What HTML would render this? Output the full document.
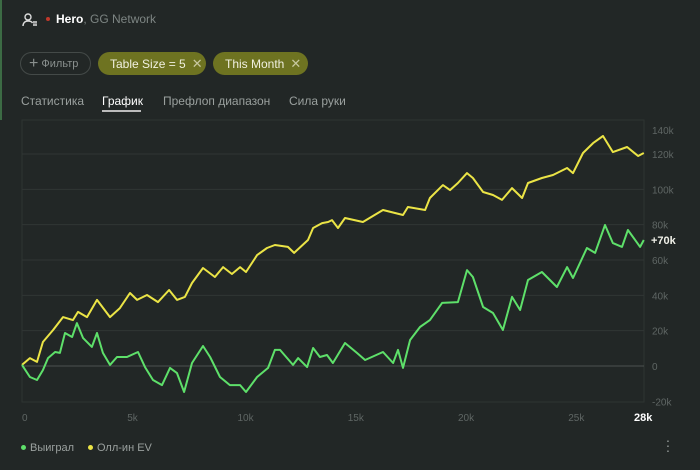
<!DOCTYPE html>
<html><head><meta charset="utf-8">
<style>
*{margin:0;padding:0;box-sizing:border-box}
body{width:700px;height:470px;background:#222726;font-family:"Liberation Sans",sans-serif;position:relative;overflow:hidden;color:#ccc}
.abs{position:absolute}
.chip{position:absolute;top:52px;height:23px;border-radius:12px;background:#6e7321;color:#f0f0e0;font-size:12px;line-height:23px;padding-left:12px}
.chip .x{color:#c8c8a0;margin-left:6px;font-size:13px}
.tab{position:absolute;top:94px;font-size:12px;color:#9aa09e}
</style></head><body>
<div class="abs" style="left:0;top:0;width:2px;height:120px;background:#3c6b44"></div>
<svg class="abs" style="left:22px;top:12px" width="16" height="16" viewBox="0 0 16 16"><circle cx="6" cy="5" r="3" fill="none" stroke="#ddd" stroke-width="1.4"/><path d="M1 14c0-3 2-5 5-5s4 1 4.5 2" fill="none" stroke="#ddd" stroke-width="1.4"/><path d="M11 10h4M11 13h4M12 9v5M14 9v5" stroke="#ddd" stroke-width="1"/></svg>
<div class="abs" style="left:46px;top:17px;width:4px;height:4px;border-radius:2px;background:#c0392b"></div>
<div class="abs" style="left:56px;top:12px;font-size:12px"><b style="color:#fff">Hero</b><span style="color:#7d8583">, GG Network</span></div>
<div class="abs" style="left:20px;top:52px;width:71px;height:23px;border:1px solid #444a48;border-radius:12px;font-size:11px;color:#8a908e;line-height:21px;padding-left:8px"><span style="font-size:16px;vertical-align:-1px">+</span> Фильтр</div>
<div class="chip" style="left:98px;width:108px">Table Size = 5<span class="x">✕</span></div>
<div class="chip" style="left:213px;width:95px">This Month<span class="x">✕</span></div>
<div class="tab" style="left:21px">Статистика</div>
<div class="tab" style="left:102px;color:#fff">График</div>
<div class="abs" style="left:102px;top:110px;width:39px;height:2px;background:#bbb"></div>
<div class="tab" style="left:163px">Префлоп диапазон</div>
<div class="tab" style="left:289px">Сила руки</div>
<svg id="chart" class="abs" style="left:0;top:0" width="700" height="470"></svg>
<div class="abs" style="left:21px;top:442px;font-size:11px;color:#9aa09e"><span style="display:inline-block;width:5px;height:5px;border-radius:3px;background:#5ee06a;vertical-align:1px;margin-right:4px"></span>Выиграл</div>
<div class="abs" style="left:88px;top:442px;font-size:11px;color:#9aa09e"><span style="display:inline-block;width:5px;height:5px;border-radius:3px;background:#ebe446;vertical-align:1px;margin-right:4px"></span>Олл-ин EV</div>
<div class="abs" style="left:665px;top:438px;font-size:14px;color:#9aa09e;line-height:5px;width:6px;text-align:center">·<br>·<br>·</div>
<script>
const yTicks=[140,120,100,80,60,40,20,0,-20];
const yTickLabels=["140k","120k","100k","80k","60k","40k","20k","0","-20k"];
const xTicks=[0,5,10,15,20,25];
const xTickLabels=["0","5k","10k","15k","20k","25k"];
const wonHands=[0,0.36,0.68,0.95,1.18,1.5,1.72,1.95,2.27,2.49,2.77,3.17,3.4,3.67,3.99,4.31,4.76,5.26,5.58,5.94,6.35,6.71,7.03,7.35,7.71,8.21,8.53,8.98,9.43,9.89,10.16,10.66,11.16,11.47,11.7,12.29,12.52,12.93,13.2,13.51,13.83,14.1,14.65,15.19,15.56,16.37,16.83,17.05,17.28,17.6,18.05,18.5,19.05,19.77,20.18,20.45,20.91,21.36,21.81,22.22,22.59,22.95,23.58,24.26,24.72,24.99,25.62,25.99,26.44,26.8,27.21,27.48,28.03,28.2];
const wonValues=[0.6,-6.2,-7.9,-2.3,4.5,7.9,7.4,18.7,16.4,24.3,15.8,10.8,18.7,7.4,0.6,5.1,5.1,7.9,-0.6,-7.9,-10.8,-1.1,-4,-14.7,1.7,11.3,5.1,-6.2,-10.8,-10.8,-14.7,-6.2,-1.1,9.1,9.1,0.6,4.5,-0.6,10.2,5.1,6.2,1.7,13,7.4,3.4,7.9,1.7,9.1,-1.1,14.7,22.1,26,35.7,36.2,54.3,50.4,33.4,30,20.4,39.1,31.7,48.7,53.2,44.7,56,49.8,66.8,64,79.8,69.6,67.4,77,67.4,71.3];
const evHands=[0,0.36,0.68,0.95,1.41,1.86,2.31,2.54,2.95,3.4,3.99,4.44,4.9,5.22,5.67,6.17,6.67,7.03,7.39,7.71,8.21,8.75,9.12,9.52,9.89,10.16,10.66,11.11,11.47,12.06,12.34,12.97,13.2,13.61,13.88,14.06,14.33,14.65,15.46,16.37,17.28,17.5,18.28,18.5,19.09,19.41,19.77,20.18,20.45,20.91,21.36,21.77,22.22,22.68,22.95,23.58,24.08,24.72,24.99,25.44,25.9,26.35,26.8,27.44,27.94,28.2];
const evValues=[0.6,4.5,2.3,13.6,20.4,27.7,26,30.6,27.7,37.4,27.7,32.8,41.3,37.4,40.2,36.2,43,37.4,39.1,47,55.5,50.4,56,52.1,56,53.2,62.8,66.8,68.5,67.4,64,71.3,78.1,80.9,81.5,82.6,78.1,83.8,81.5,88.3,85.5,90,88.3,95.1,102.4,99.6,103.6,109.2,106.4,98.5,96.8,94,100.7,95.1,103.6,106.4,108.1,112.1,109.2,120.6,126.2,130.2,121.1,124,118.9,120.6];
const NS="http://www.w3.org/2000/svg";
const svg=document.getElementById('chart');
const X=h=>22+h*22.05;
const Y=v=>366-v*35.33/20;
const L=22,R=644,T=120,B=402;
function mk(t,a){const e=document.createElementNS(NS,t);for(const k in a)e.setAttribute(k,a[k]);svg.appendChild(e);return e;}
let fr=mk('rect',{x:L,y:T,width:R-L,height:B-T,fill:'none',stroke:'#2e3432','stroke-width':1});


yTicks.forEach((v,i)=>{
  const y=Y(v);
  if(v<140&&v>-20){const g=mk('line',{x1:L,x2:R,y1:y,y2:y,stroke:v===0?'#4c5250':'#303634','stroke-width':1});
  
  }
  const ly=Math.max(y,130);
  const t=mk('text',{x:652,y:ly+4,fill:'#5f6664','font-size':10});
  t.textContent=yTickLabels[i];
  
  
});
xTicks.forEach((h,i)=>{
  const t=mk('text',{x:X(h)+(i===0?0:-5),y:421,fill:'#5f6664','font-size':10});
  t.textContent=xTickLabels[i];
  
  
});
function line(hs,vs,color,name){
  const d=hs.map((h,i)=>(i?'L':'M')+X(h).toFixed(1)+' '+Y(vs[i]).toFixed(1)).join('');
  const p=mk('path',{d:d,fill:'none',stroke:color,'stroke-width':2,'stroke-linejoin':'round'});
  
  
}
line(evHands,evValues,'#ebe446','allin-ev-line');
line(wonHands,wonValues,'#5ee06a','won-line');
const lastV=wonValues[wonValues.length-1];
const lv=mk('text',{x:651,y:Y(lastV)+4,fill:'#f0f0e8','font-size':11,'font-weight':'bold'});
lv.textContent='+'+Math.round(lastV/10)*10+'k';


const lh=mk('text',{x:634,y:421,fill:'#fff','font-size':11,'font-weight':'bold'});
lh.textContent=Math.floor(wonHands[wonHands.length-1])+'k';


</script>
</body></html>
